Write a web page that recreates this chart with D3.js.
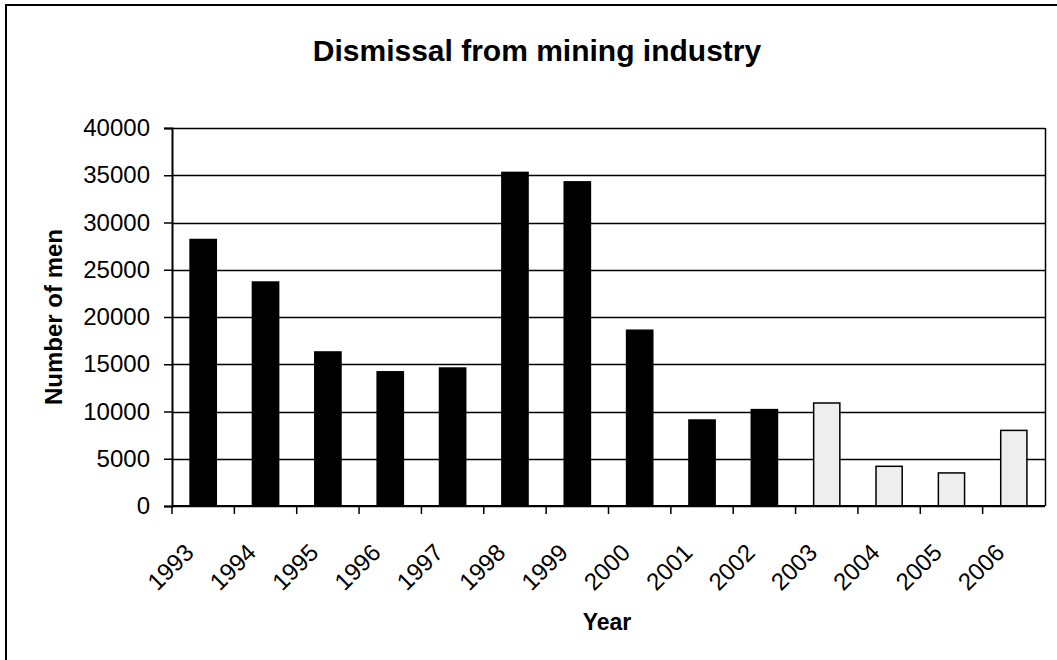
<!DOCTYPE html>
<html>
<head>
<meta charset="utf-8">
<script src="https://cdn.jsdelivr.net/npm/d3@7"></script>
<style>
  body { margin: 0; background: #fff; }
  text { font-family: "Liberation Sans", Arial, sans-serif; fill: #000; }
</style>
</head>
<body>
<div id="chart"></div>
<script>
// data
const years = ['1993', '1994', '1995', '1996', '1997', '1998', '1999',
  '2000', '2001', '2002', '2003', '2004', '2005', '2006'];
const dismissed = [28200, 23700, 16300, 14200, 14600, 35300, 34300,
  18600, 9100, 10200, 10900, 4200, 3500, 8000];
const projected = ['2003', '2004', '2005', '2006'];
const yTicks = [0, 5000, 10000, 15000, 20000, 25000, 30000, 35000, 40000];

const width = 1057;
const height = 660;
const margin = {top: 128, right: 12, bottom: 154, left: 172};
const innerW = width - margin.left - margin.right;
const innerH = height - margin.top - margin.bottom;

const svg = d3.select('#chart').append('svg')
  .attr('width', width)
  .attr('height', height);

// outer frame
svg.append('rect')
  .attr('x', 6)
  .attr('y', 5)
  .attr('width', width + 20)
  .attr('height', height + 20)
  .style('fill', 'none')
  .style('stroke', '#000')
  .style('stroke-width', 2);

const g = svg.append('g')
  .attr('transform', 'translate(' + margin.left + ',' + margin.top + ')');

const x = d3.scaleBand()
  .domain(years)
  .range([0, innerW])
  .paddingInner(0.58)
  .paddingOuter(0.29);

const y = d3.scaleLinear()
  .domain([0, 40000])
  .range([innerH, 0]);

// gridlines
g.append('g')
  .selectAll('line')
  .data(yTicks)
  .enter().append('line')
  .attr('x1', 0)
  .attr('x2', innerW)
  .attr('y1', (d) => Math.round(y(d)) + 0.5)
  .attr('y2', (d) => Math.round(y(d)) + 0.5)
  .style('stroke', '#000')
  .style('stroke-width', 1.5);

// right border of the plot
g.append('line')
  .attr('x1', innerW + 0.5)
  .attr('x2', innerW + 0.5)
  .attr('y1', y(40000))
  .attr('y2', y(0))
  .style('stroke', '#000')
  .style('stroke-width', 1.5);

// bars
g.selectAll('.bar')
  .data(years)
  .enter().append('rect')
  .attr('class', 'bar')
  .attr('x', (d) => x(d))
  .attr('width', x.bandwidth())
  .attr('y', (d, i) => y(dismissed[i]))
  .attr('height', (d, i) => y(0) - y(dismissed[i]))
  .style('fill', (d) => projected.includes(d) ? '#eeeeee' : '#000')
  .style('stroke', '#000')
  .style('stroke-width', 1.5);

// y axis
const yAxis = g.append('g')
  .call(d3.axisLeft(y).tickValues(yTicks).tickSize(8).tickPadding(14).tickFormat(d3.format('d')));
yAxis.select('.domain').style('stroke-width', 2);
yAxis.selectAll('.tick line').style('stroke-width', 1.5);
yAxis.selectAll('text')
  .style('font-size', '24px')
  .style('font-family', '"Liberation Sans", Arial, sans-serif');

// x axis: ticks on category boundaries
const xAxis = g.append('g')
  .attr('transform', 'translate(0,' + innerH + ')');

xAxis.append('line')
  .attr('x1', 0)
  .attr('x2', innerW)
  .attr('y1', 0)
  .attr('y2', 0)
  .style('stroke', '#000')
  .style('stroke-width', 2);

xAxis.selectAll('.tick')
  .data(years)
  .enter().append('line')
  .attr('x1', (d) => x(d) - x.step() * x.paddingOuter())
  .attr('x2', (d) => x(d) - x.step() * x.paddingOuter())
  .attr('y1', 0)
  .attr('y2', 8)
  .style('stroke', '#000')
  .style('stroke-width', 1.5);

xAxis.selectAll('.xlabel')
  .data(years)
  .enter().append('text')
  .attr('class', 'xlabel')
  .attr('text-anchor', 'end')
  .attr('transform', (d) => 'translate(' + (x(d) + x.bandwidth() / 2 - 8) + ',48) rotate(-45)')
  .style('font-size', '24px')
  .text((d) => d);

// titles
svg.append('text')
  .attr('x', 537)
  .attr('y', 61)
  .attr('text-anchor', 'middle')
  .style('font-size', '30px')
  .style('font-weight', 'bold')
  .text('Dismissal from mining industry');

svg.append('text')
  .attr('x', 607)
  .attr('y', 630)
  .attr('text-anchor', 'middle')
  .style('font-size', '23px')
  .style('font-weight', 'bold')
  .text('Year');

svg.append('text')
  .attr('transform', 'translate(62,' + (margin.top + innerH / 2) + ') rotate(-90)')
  .attr('text-anchor', 'middle')
  .style('font-size', '24px')
  .style('font-weight', 'bold')
  .text('Number of men');
</script>
</body>
</html>
